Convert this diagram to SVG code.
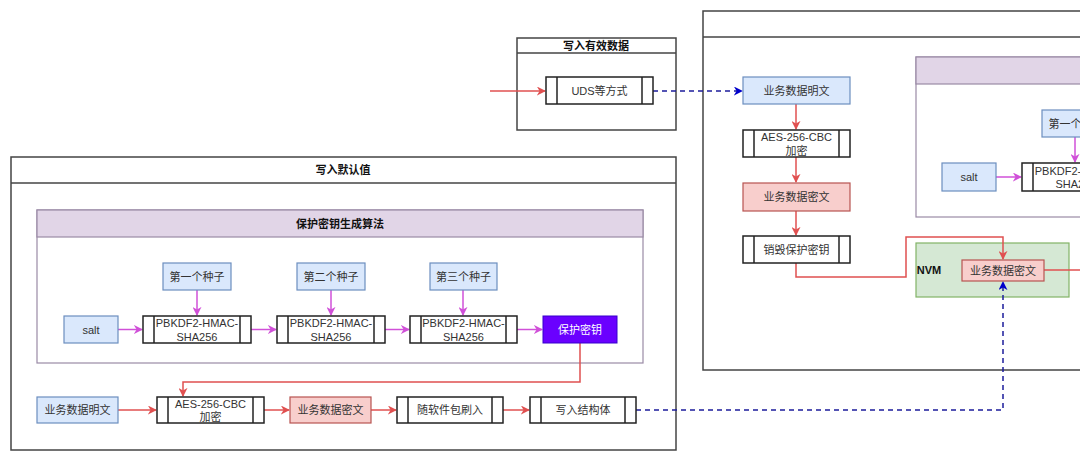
<svg xmlns="http://www.w3.org/2000/svg" width="1080" height="460" viewBox="0 0 1080 460">
<style>
text{font-family:"Liberation Sans","Noto Sans CJK SC",sans-serif;font-size:11px;fill:#333;text-anchor:middle;dominant-baseline:central}
.title{font-weight:bold;fill:#111}
.cont{fill:#fff;stroke:#444;stroke-width:1.5}
.alg{fill:#fff;stroke:#9a8aa6;stroke-width:1.2}
.algh{fill:#e1d5e7;stroke:#9a8aa6;stroke-width:1.2}
.blue{fill:#dae8fc;stroke:#6c8ebf;stroke-width:1.2}
.pink{fill:#f8cecc;stroke:#b85450;stroke-width:1.2}
.proc{fill:#fff;stroke:#222;stroke-width:1.5}
.key{fill:#6a00ff;stroke:#3700cc;stroke-width:1}
.nvm{fill:#d5e8d4;stroke:#82b366;stroke-width:1.2}
.r{fill:none;stroke:#e05050;stroke-width:1.5;marker-end:url(#ar)}
.m{fill:none;stroke:#d050d8;stroke-width:1.5;marker-end:url(#am)}
.b{fill:none;stroke:#1c1c9c;stroke-width:1.5;stroke-dasharray:5 4;marker-end:url(#ab)}
</style>
<defs>
<marker id="ar" viewBox="0 0 10 10" refX="9" refY="5" markerWidth="9" markerHeight="9" markerUnits="userSpaceOnUse" orient="auto"><path d="M0,0 L10,5 L0,10 L3,5 z" fill="#e05050"/></marker>
<marker id="am" viewBox="0 0 10 10" refX="9" refY="5" markerWidth="9" markerHeight="9" markerUnits="userSpaceOnUse" orient="auto"><path d="M0,0 L10,5 L0,10 L3,5 z" fill="#d050d8"/></marker>
<marker id="ab" viewBox="0 0 10 10" refX="9" refY="5" markerWidth="9" markerHeight="9" markerUnits="userSpaceOnUse" orient="auto"><path d="M0,0 L10,5 L0,10 L3,5 z" fill="#0000cc"/></marker>
</defs>
<rect width="1080" height="460" fill="#fff"/>

<g id="container-default">
<rect class="cont" x="11" y="157" width="665" height="293"/>
<line x1="11" y1="183" x2="676" y2="183" stroke="#444" stroke-width="1.5"/>
<text class="title" x="343" y="170">写入默认值</text>
</g>
<g id="container-alg">
<rect class="alg" x="37" y="210" width="606" height="153"/>
<rect class="algh" x="37" y="210" width="606" height="27"/>
<text class="title" x="340" y="223.5">保护密钥生成算法</text>
</g>
<g id="container-valid">
<rect class="cont" x="517" y="38" width="159" height="92"/>
<line x1="517" y1="53" x2="676" y2="53" stroke="#444" stroke-width="1.5"/>
<text class="title" x="596" y="45.5">写入有效数据</text>
</g>
<g id="container-right">
<rect class="cont" x="703" y="11" width="400" height="359"/>
<line x1="703" y1="37" x2="1103" y2="37" stroke="#444" stroke-width="1.5"/>
</g>
<g id="container-alg2">
<rect class="alg" x="916" y="57" width="200" height="160"/>
<rect class="algh" x="916" y="57" width="200" height="27"/>
</g>
<g id="container-nvm">
<rect class="nvm" x="916" y="243" width="153" height="54"/>
<text x="929" y="270" style="font-weight:bold;fill:#111">NVM</text>
</g>

<g id="connectors">
<path class="m" d="M197,290 V315"/>
<path class="m" d="M331,290 V315"/>
<path class="m" d="M463,290 V315"/>
<path class="m" d="M118,329.5 H142"/>
<path class="m" d="M251,329.5 H276"/>
<path class="m" d="M385,329.5 H409"/>
<path class="m" d="M517,329.5 H542"/>
<path class="r" d="M580,343 V382 H183 V396"/>
<path class="r" d="M118,410 H156"/>
<path class="r" d="M264,410 H289"/>
<path class="r" d="M371,410 H396"/>
<path class="r" d="M503,410 H529"/>
<path class="b" d="M636,410 H1003 V282"/>
<path class="r" d="M490,91 H545"/>
<path class="b" d="M653,91 H742"/>
<path class="r" d="M796,104 V129"/>
<path class="r" d="M796,157 V182"/>
<path class="r" d="M796,211 V235"/>
<path class="r" d="M796,263 V277 H906 V237 H1003 V259"/>
<path d="M1044,270 H1080" fill="none" stroke="#e05050" stroke-width="1.5"/>
<path class="m" d="M996,177 H1021"/>
<path class="m" d="M1075,137 V162"/>
</g>

<g id="seed1"><rect class="blue" x="163" y="263" width="68" height="27"/><text x="197" y="276.5">第一个种子</text></g>
<g id="seed2"><rect class="blue" x="297" y="263" width="68" height="27"/><text x="331" y="276.5">第二个种子</text></g>
<g id="seed3"><rect class="blue" x="430" y="263" width="67" height="27"/><text x="463.5" y="276.5">第三个种子</text></g>
<g id="salt"><rect class="blue" x="64" y="316" width="54" height="27"/><text x="91" y="329.5">salt</text></g>
<g id="pbkdf1"><rect class="proc" x="143" y="316" width="108" height="27"/><line x1="154" y1="316" x2="154" y2="343" stroke="#222" stroke-width="1.5"/><line x1="240" y1="316" x2="240" y2="343" stroke="#222" stroke-width="1.5"/><text x="197" y="323">PBKDF2-HMAC-</text><text x="197" y="336.5">SHA256</text></g>
<g id="pbkdf2"><rect class="proc" x="277" y="316" width="108" height="27"/><line x1="288" y1="316" x2="288" y2="343" stroke="#222" stroke-width="1.5"/><line x1="374" y1="316" x2="374" y2="343" stroke="#222" stroke-width="1.5"/><text x="331" y="323">PBKDF2-HMAC-</text><text x="331" y="336.5">SHA256</text></g>
<g id="pbkdf3"><rect class="proc" x="410" y="316" width="107" height="27"/><line x1="421" y1="316" x2="421" y2="343" stroke="#222" stroke-width="1.5"/><line x1="506" y1="316" x2="506" y2="343" stroke="#222" stroke-width="1.5"/><text x="463.5" y="323">PBKDF2-HMAC-</text><text x="463.5" y="336.5">SHA256</text></g>
<g id="protkey"><rect class="key" x="543" y="316" width="74" height="27"/><text x="580" y="329.5" style="fill:#fff">保护密钥</text></g>

<g id="plain1"><rect class="blue" x="37" y="397" width="81" height="26"/><text x="77.5" y="410">业务数据明文</text></g>
<g id="aes1"><rect class="proc" x="157" y="397" width="107" height="26"/><line x1="168" y1="397" x2="168" y2="423" stroke="#222" stroke-width="1.5"/><line x1="253" y1="397" x2="253" y2="423" stroke="#222" stroke-width="1.5"/><text x="210.5" y="403.5">AES-256-CBC</text><text x="210.5" y="417">加密</text></g>
<g id="cipher1"><rect class="pink" x="290" y="397" width="81" height="26"/><text x="330.5" y="410">业务数据密文</text></g>
<g id="flash"><rect class="proc" x="397" y="397" width="106" height="26"/><line x1="408" y1="397" x2="408" y2="423" stroke="#222" stroke-width="1.5"/><line x1="492" y1="397" x2="492" y2="423" stroke="#222" stroke-width="1.5"/><text x="450" y="410">随软件包刷入</text></g>
<g id="writestruct"><rect class="proc" x="530" y="397" width="106" height="26"/><line x1="541" y1="397" x2="541" y2="423" stroke="#222" stroke-width="1.5"/><line x1="625" y1="397" x2="625" y2="423" stroke="#222" stroke-width="1.5"/><text x="583" y="410">写入结构体</text></g>

<g id="uds"><rect class="proc" x="546" y="77" width="107" height="27"/><line x1="557" y1="77" x2="557" y2="104" stroke="#222" stroke-width="1.5"/><line x1="642" y1="77" x2="642" y2="104" stroke="#222" stroke-width="1.5"/><text x="599.5" y="90.5">UDS等方式</text></g>

<g id="plain2"><rect class="blue" x="743" y="77" width="107" height="27"/><text x="796.5" y="90.5">业务数据明文</text></g>
<g id="aes2"><rect class="proc" x="743" y="130" width="107" height="27"/><line x1="754" y1="130" x2="754" y2="157" stroke="#222" stroke-width="1.5"/><line x1="839" y1="130" x2="839" y2="157" stroke="#222" stroke-width="1.5"/><text x="796.5" y="137">AES-256-CBC</text><text x="796.5" y="150.5">加密</text></g>
<g id="cipher2"><rect class="pink" x="743" y="183" width="107" height="28"/><text x="796.5" y="197">业务数据密文</text></g>
<g id="destroy"><rect class="proc" x="743" y="236" width="107" height="27"/><line x1="754" y1="236" x2="754" y2="263" stroke="#222" stroke-width="1.5"/><line x1="839" y1="236" x2="839" y2="263" stroke="#222" stroke-width="1.5"/><text x="796.5" y="249.5">销毁保护密钥</text></g>
<g id="cipher-nvm"><rect class="pink" x="962" y="260" width="82" height="21"/><text x="1003" y="270.5">业务数据密文</text></g>

<g id="salt2"><rect class="blue" x="942" y="163" width="54" height="28"/><text x="969" y="177">salt</text></g>
<g id="seed-r"><rect class="blue" x="1042" y="110" width="68" height="27"/><text x="1076" y="123.5">第一个种子</text></g>
<g id="pbkdf-r"><rect class="proc" x="1022" y="163" width="108" height="28"/><line x1="1033" y1="163" x2="1033" y2="191" stroke="#222" stroke-width="1.5"/><text x="1076" y="170.5">PBKDF2-HMAC-</text><text x="1076" y="184">SHA256</text></g>
</svg>
